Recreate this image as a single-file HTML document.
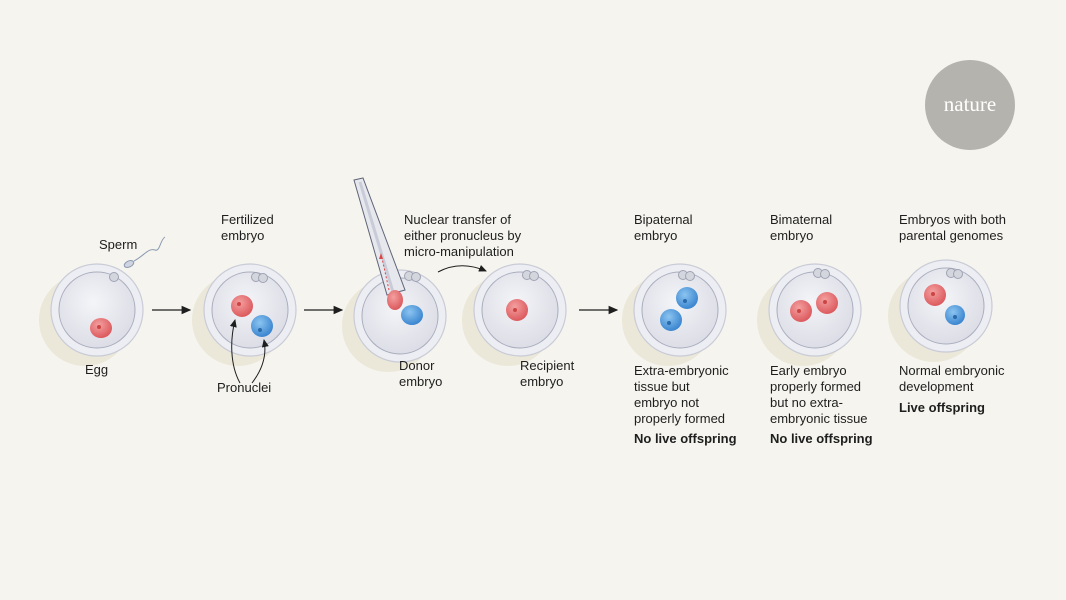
<!DOCTYPE html>
<html><head><meta charset="utf-8"><style>
body{margin:0;background:#f5f4ee;}
svg{display:block}
text{font-family:"Liberation Sans",sans-serif;font-size:13px;fill:#1e1e1e}
.b{font-weight:bold}
</style></head><body>
<svg width="1066" height="600" viewBox="0 0 1066 600">
<defs>
<radialGradient id="cell" cx="45%" cy="40%" r="60%"><stop offset="0" stop-color="#f4f5f8"/><stop offset="1" stop-color="#dcdde6"/></radialGradient>
<radialGradient id="red" cx="40%" cy="35%" r="65%"><stop offset="0" stop-color="#f4a0a0"/><stop offset="1" stop-color="#dc5a5e"/></radialGradient>
<radialGradient id="blue" cx="40%" cy="35%" r="65%"><stop offset="0" stop-color="#8cc4f0"/><stop offset="1" stop-color="#3b86d0"/></radialGradient>
<g id="emb">
<circle cx="-12" cy="10" r="46" fill="#ebe8d9"/>
<circle r="46" fill="#eceef3" stroke="#c9cbd6" stroke-width="1.2"/>
<circle r="38" fill="url(#cell)" stroke="#a9acbc" stroke-width="1"/>
</g>
<g id="pb"><circle cx="0" cy="0" r="4.5" fill="#d4d6de" stroke="#9fa2b2"/><circle cx="7" cy="1" r="4.5" fill="#d4d6de" stroke="#9fa2b2"/></g>
<marker id="ah" markerWidth="8" markerHeight="8" refX="7" refY="4" orient="auto"><path d="M0,0.5 L8,4 L0,7.5 z" fill="#1e1e1e"/></marker>
</defs>
<circle cx="970" cy="105" r="45" fill="#b5b3ad"/>
<text x="970" y="111" text-anchor="middle" style="font-family:'Liberation Serif',serif;font-size:21px;fill:#fff">nature</text>

<!-- Egg -->
<use href="#emb" x="97" y="310"/>
<circle cx="114" cy="277" r="4.5" fill="#d4d6de" stroke="#9fa2b2"/>
<ellipse cx="101" cy="328" rx="11" ry="10" fill="url(#red)"/>
<circle cx="99" cy="327" r="2" fill="#c44"/>
<ellipse cx="129" cy="264" rx="5" ry="3" fill="#cfd4e0" stroke="#8a9ab0" transform="rotate(-25 129 264)"/>
<path d="M134,261 C145,255 148,248 155,250 C160,252 160,240 165,237" fill="none" stroke="#8a9ab0"/>
<text x="99" y="249">Sperm</text>
<text x="85" y="374">Egg</text>
<line x1="152" y1="310" x2="190" y2="310" stroke="#1e1e1e" stroke-width="1.2" marker-end="url(#ah)"/>

<!-- Fertilized -->
<use href="#emb" x="250" y="310"/>
<use href="#pb" x="256" y="277"/>
<circle cx="242" cy="306" r="11" fill="url(#red)"/><circle cx="239" cy="304" r="2" fill="#c44"/>
<circle cx="262" cy="326" r="11" fill="url(#blue)"/><circle cx="260" cy="330" r="2" fill="#2a6aaa"/>
<path d="M240,383 C230,365 230,340 235,320" fill="none" stroke="#1e1e1e" marker-end="url(#ah)"/>
<path d="M252,383 C262,370 267,355 264,340" fill="none" stroke="#1e1e1e" marker-end="url(#ah)"/>
<text x="221" y="224">Fertilized</text><text x="221" y="240">embryo</text>
<text x="217" y="392">Pronuclei</text>
<line x1="304" y1="310" x2="342" y2="310" stroke="#1e1e1e" stroke-width="1.2" marker-end="url(#ah)"/>

<!-- Donor -->
<use href="#emb" x="400" y="316"/>
<use href="#pb" x="409" y="276"/>
<ellipse cx="412" cy="315" rx="11" ry="10" fill="url(#blue)"/>
<polygon points="354,180 363,178 405,290 387,295" fill="#e6e8ee" stroke="#5f6478" stroke-width="1"/>
<line x1="360" y1="182" x2="393" y2="292" stroke="#c9ccd8" stroke-width="3"/>
<ellipse cx="395" cy="300" rx="8" ry="10" fill="url(#red)"/>
<line x1="389" y1="290" x2="382" y2="258" stroke="#d44" stroke-width="1" stroke-dasharray="2,2"/>
<path d="M381,253 l-2,6 l4,0 z" fill="#d44"/>
<path d="M438,272 C455,263 472,265 486,271" fill="none" stroke="#1e1e1e" marker-end="url(#ah)"/>
<text x="404" y="224">Nuclear transfer of</text><text x="404" y="240">either pronucleus by</text><text x="404" y="256">micro-manipulation</text>
<text x="399" y="370">Donor</text><text x="399" y="386">embryo</text>

<!-- Recipient -->
<use href="#emb" x="520" y="310"/>
<use href="#pb" x="527" y="275"/>
<circle cx="517" cy="310" r="11" fill="url(#red)"/><circle cx="515" cy="310" r="2" fill="#c44"/>
<text x="520" y="370">Recipient</text><text x="520" y="386">embryo</text>
<line x1="579" y1="310" x2="617" y2="310" stroke="#1e1e1e" stroke-width="1.2" marker-end="url(#ah)"/>

<!-- Bipaternal -->
<use href="#emb" x="680" y="310"/>
<use href="#pb" x="683" y="275"/>
<circle cx="687" cy="298" r="11" fill="url(#blue)"/><circle cx="685" cy="301" r="2" fill="#2a6aaa"/>
<circle cx="671" cy="320" r="11" fill="url(#blue)"/><circle cx="669" cy="323" r="2" fill="#2a6aaa"/>
<text x="634" y="224">Bipaternal</text><text x="634" y="240">embryo</text>
<text x="634" y="375">Extra-embryonic</text><text x="634" y="391">tissue but</text><text x="634" y="407">embryo not</text><text x="634" y="423">properly formed</text>
<text x="634" y="443" class="b">No live offspring</text>

<!-- Bimaternal -->
<use href="#emb" x="815" y="310"/>
<use href="#pb" x="818" y="273"/>
<circle cx="801" cy="311" r="11" fill="url(#red)"/><circle cx="799" cy="311" r="2" fill="#c44"/>
<circle cx="827" cy="303" r="11" fill="url(#red)"/><circle cx="825" cy="302" r="2" fill="#c44"/>
<text x="770" y="224">Bimaternal</text><text x="770" y="240">embryo</text>
<text x="770" y="375">Early embryo</text><text x="770" y="391">properly formed</text><text x="770" y="407">but no extra-</text><text x="770" y="423">embryonic tissue</text>
<text x="770" y="443" class="b">No live offspring</text>

<!-- Both -->
<use href="#emb" x="946" y="306"/>
<use href="#pb" x="951" y="273"/>
<circle cx="935" cy="295" r="11" fill="url(#red)"/><circle cx="933" cy="294" r="2" fill="#c44"/>
<circle cx="955" cy="315" r="10" fill="url(#blue)"/><circle cx="955" cy="317" r="2" fill="#2a6aaa"/>
<text x="899" y="224">Embryos with both</text><text x="899" y="240">parental genomes</text>
<text x="899" y="375">Normal embryonic</text><text x="899" y="391">development</text>
<text x="899" y="412" class="b">Live offspring</text>
</svg>
</body></html>
